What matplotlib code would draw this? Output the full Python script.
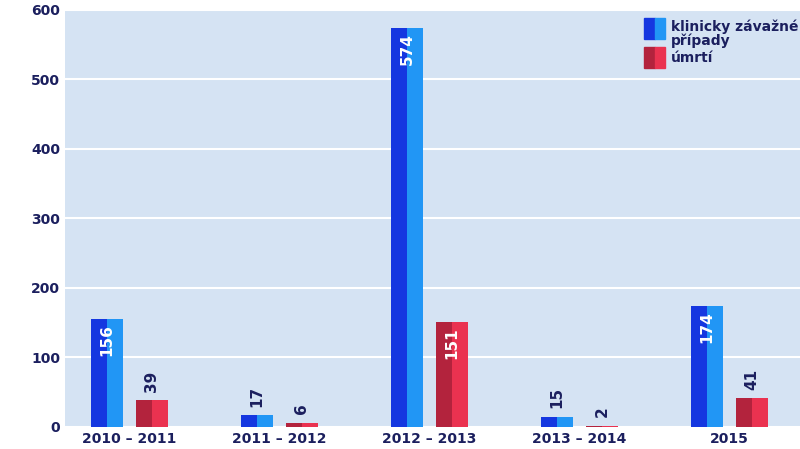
import numpy as np
import matplotlib.pyplot as plt
from matplotlib.patches import Rectangle

categories = ["2010 – 2011", "2011 – 2012", "2012 – 2013", "2013 – 2014", "2015"]
severe = [156, 17, 574, 15, 174]
deaths = [39, 6, 151, 2, 41]

NAVY = "#1b1f5e"
BG = "#d5e3f3"


def draw_bars(ax, xs, vals, dark, light, w):
    ax.bar(xs - w / 4, vals, w / 2, color=dark, zorder=3)
    ax.bar(xs + w / 4, vals, w / 2, color=light, zorder=3)
    for x, v in zip(xs, vals):
        if v > 60:
            ax.text(x, v - 8, str(v), rotation=90, ha="center", va="top",
                    color="white", fontsize=11, fontweight="bold", zorder=4)
        else:
            ax.text(x, v + 12, str(v), rotation=90, ha="center", va="bottom",
                    color=NAVY, fontsize=11, fontweight="bold", zorder=4)


def main():
    fig = plt.figure(figsize=(8, 4.49), dpi=100)
    ax = fig.add_axes([0.081, 0.049, 0.919, 0.929])
    ax.set_facecolor(BG)
    x = np.arange(len(categories))
    w = 0.21
    draw_bars(ax, x - 0.15, severe, "#1537e0", "#2196f5", w)
    draw_bars(ax, x + 0.15, deaths, "#b3233d", "#ea3250", w)

    ax.set_xlim(-0.43, 4.47)
    ax.set_ylim(0, 600)
    ax.set_yticks(range(0, 601, 100))
    ax.set_xticks(x)
    ax.set_xticklabels(categories)
    ax.grid(axis="y", color="white", linewidth=1.5, zorder=0)
    for s in ax.spines.values():
        s.set_visible(False)
    ax.tick_params(length=0, colors=NAVY, labelsize=10)
    for lab in ax.get_xticklabels() + ax.get_yticklabels():
        lab.set_fontweight("bold")

    # legend
    items = [("klinicky závažné\npřípady", "#1537e0", "#2196f5", 0.955),
             ("úmrtí", "#b3233d", "#ea3250", 0.885)]
    for text, dark, light, y in items:
        ax.add_patch(Rectangle((0.788, y - 0.025), 0.0145, 0.05, color=dark,
                               transform=ax.transAxes, zorder=5))
        ax.add_patch(Rectangle((0.8025, y - 0.025), 0.0145, 0.05, color=light,
                               transform=ax.transAxes, zorder=5))
        ax.text(0.825, y + (0.0 if "\n" not in text else -0.012), text,
                transform=ax.transAxes, va="center", ha="left", color=NAVY,
                fontsize=10, fontweight="bold", linespacing=0.9, zorder=5)

    fig.savefig("out.png")


if __name__ == "__main__":
    main()
